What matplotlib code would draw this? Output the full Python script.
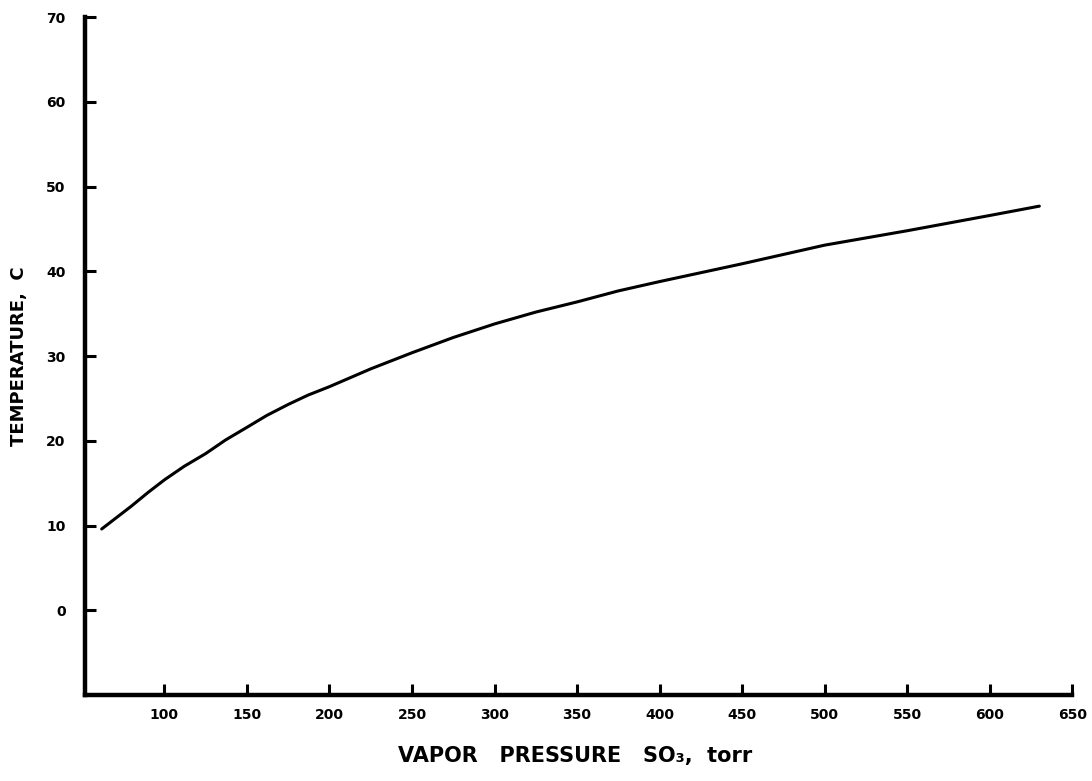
import matplotlib.pyplot as plt

# vapor pressure of SO3 (torr) vs temperature (C)
pressure = [62, 70, 80, 90, 100, 112, 125, 137, 150, 162, 175, 187, 200,
            225, 250, 275, 300, 325, 350, 375, 400, 450, 500, 550, 600, 630]
temperature = [9.6, 10.8, 12.3, 13.9, 15.4, 17.0, 18.5, 20.1, 21.6, 23.0,
               24.3, 25.4, 26.4, 28.5, 30.4, 32.2, 33.8, 35.2, 36.4, 37.7,
               38.8, 40.9, 43.1, 44.8, 46.6, 47.7]

x_ticks = [100, 150, 200, 250, 300, 350, 400, 450, 500, 550, 600, 650]
y_ticks = [0, 10, 20, 30, 40, 50, 60, 70]

plt.rcParams['font.family'] = ['DejaVu Sans']
plt.rcParams['font.weight'] = 'bold'

fig = plt.figure(figsize=(10.92, 7.81), dpi=100)
ax = fig.add_axes([0.078, 0.110, 0.904, 0.868])

ax.plot(pressure, temperature, color='black', lw=2.2, solid_capstyle='round')

ax.set_xlim(52, 650)
ax.set_ylim(-10, 70)
ax.set_xticks(x_ticks)
ax.set_yticks(y_ticks)

for side in ['top', 'right']:
    ax.spines[side].set_visible(False)
for side in ['left', 'bottom']:
    ax.spines[side].set_linewidth(3.2)

ax.tick_params(axis='both', direction='in', length=8, width=2.2,
               labelsize=10)
ax.tick_params(axis='y', pad=14)
ax.tick_params(axis='x', pad=9)
for lbl in ax.get_xticklabels() + ax.get_yticklabels():
    lbl.set_fontweight('bold')

ax.set_ylabel('TEMPERATURE,  C', fontsize=13, fontweight='bold')
ax.yaxis.set_label_coords(-0.058, 0.5)
ax.set_xlabel('VAPOR   PRESSURE   SO\u2083,  torr', fontsize=15,
              fontweight='bold')
ax.xaxis.set_label_coords(0.496, -0.075)

fig.savefig('out.png', dpi=100)
